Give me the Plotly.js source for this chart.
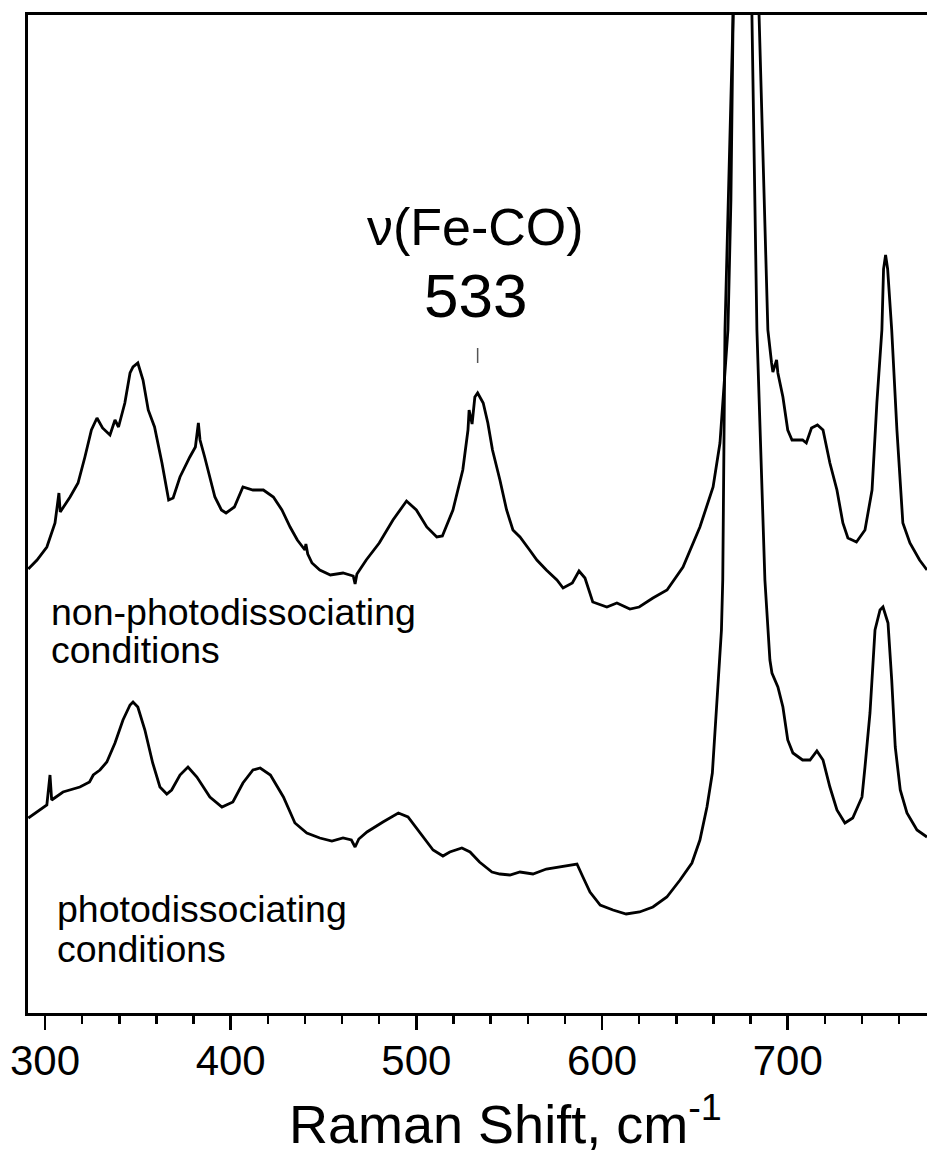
<!DOCTYPE html>
<html>
<head>
<meta charset="utf-8">
<script src="https://cdn.plot.ly/plotly-3.0.1.min.js"></script>
<style>html,body{margin:0;padding:0;background:#fff;overflow:hidden}</style>
</head>
<body>
<div id="chart" style="width:927px;height:1158px"></div>
<script>
// Raman shift (cm-1) and relative intensity (arbitrary units)
const nonPhotoShift = [291, 295.7, 301, 305.4, 307.5, 308.2, 313.5, 317.8, 321.5, 325, 328, 331, 335, 337.7, 339.6, 343, 345.8, 347.4, 350, 352.8, 355.6, 359, 363, 366.6, 369, 372.7, 378, 381, 382.6, 383.5, 386, 388.9, 391.5, 395, 397.5, 402, 406.6, 412, 417.6, 423, 427.6, 432, 435.9, 440, 440.5, 441.5, 443.8, 448, 453.7, 460.5, 466, 467, 468, 473, 480, 487.4, 494.7, 500, 505.6, 511, 514, 519.7, 525, 527.8, 528.4, 530, 531.5, 533, 536, 538.5, 541, 545, 548.6, 552, 555.8, 561, 564.9, 570, 575.7, 579, 584, 587.6, 590.8, 595, 602.6, 608, 615, 620, 627.4, 635, 643.6, 652.7, 659.8, 663.5, 666, 667.8, 669.4, 670.6, 677, 684.5, 687, 689.3, 691.3, 692, 694, 694.7, 697.4, 700, 702.3, 708, 710, 712.8, 716, 719, 722.7, 726.5, 729.7, 732.4, 737, 741.6, 745.4, 748, 750.7, 751.6, 752.7, 753.8, 756, 758.8, 762, 765.8, 771, 775];
const nonPhotoIntensity = [445, 454, 467, 491, 521, 502, 517, 531, 557, 584, 596, 586, 579, 594, 587, 611, 641, 647, 651, 634, 604, 587, 551, 514, 516, 537, 557, 567, 591, 574, 557, 537, 517, 504, 501, 507, 527, 524, 524, 517, 504, 487, 474, 464, 470, 460, 451, 444, 439, 441, 438, 430, 440, 454, 471, 494, 513, 504, 487, 477, 478, 504, 544, 584, 604, 590, 617, 621, 611, 591, 564, 534, 504, 484, 477, 464, 454, 444, 434, 426, 431, 443, 436, 412, 407, 411, 405, 407, 416, 424, 447, 487, 527, 571, 634, 684, 814, 1000, 1500, 1000, 814, 684, 651, 642, 654, 641, 617, 584, 574, 574, 571, 586, 589, 584, 551, 524, 491, 476, 472, 484, 524, 611, 684, 745, 759, 745, 684, 584, 491, 471, 454, 444];

const photoShift = [291, 295.7, 301, 302.7, 303.6, 309.7, 318.8, 324, 326, 329.6, 333.3, 337.7, 342, 345.8, 347.4, 350, 353.8, 358, 361.9, 365.6, 368.2, 372.7, 377, 381.8, 388.8, 395.3, 401.2, 406.6, 412, 415.9, 421.4, 428.4, 434.6, 441, 448, 454.5, 460.5, 465, 467, 469, 473.4, 482, 490.3, 495.5, 502, 509, 514.3, 518, 524.5, 528.9, 534, 540.7, 545, 550.4, 555.8, 562.8, 570, 577.3, 586.5, 589.7, 593.5, 599, 605.9, 613, 620.2, 627.4, 634.9, 642, 648.4, 652.7, 656.5, 659.4, 661, 662.6, 664.3, 665, 666.2, 670.6, 676.8, 680.7, 683.4, 687.7, 690.4, 691.5, 694.7, 697.4, 700, 702.8, 708, 712, 715.7, 719, 722.7, 726.5, 730.8, 735, 740, 741.6, 744.3, 747, 749.7, 751.3, 754, 756, 757.9, 760.6, 764.2, 769.6, 775];
const photoIntensity = [196, 202, 209, 239, 214, 222, 227, 232, 239, 244, 252, 271, 294, 309, 312, 307, 284, 251, 227, 220, 224, 239, 247, 237, 217, 207, 212, 231, 244, 246, 239, 217, 191, 181, 176, 173, 176, 174, 167, 175, 182, 192, 201, 197, 181, 164, 158, 162, 166, 162, 152, 142, 140, 139, 142, 140, 145, 147, 150, 137, 122, 109, 104, 100, 102, 107, 117, 134, 151, 174, 207, 241, 284, 334, 384, 434, 684, 1000, 1450, 1000, 684, 434, 354, 341, 327, 307, 274, 261, 254, 254, 263, 254, 227, 204, 191, 196, 217, 247, 301, 384, 404, 407, 391, 334, 267, 224, 201, 184, 177];

const markedBand = 533;
const xTickValues = [300, 400, 500, 600, 700];
const labelTop = ["non-photodissociating", "conditions"];
const labelBottom = ["photodissociating", "conditions"];

const FONT = "Liberation Sans, Arial, Helvetica, sans-serif";
const lineStyle = {color: "#000", width: 2.8, shape: "linear"};

const traces = [
  {x: nonPhotoShift, y: nonPhotoIntensity, type: "scatter", mode: "lines", line: lineStyle, name: "non-photodissociating", hoverinfo: "x+y"},
  {x: photoShift, y: photoIntensity, type: "scatter", mode: "lines", line: lineStyle, name: "photodissociating", hoverinfo: "x+y"}
];

const textAnn = (text, x, y, size, xref, xanchor, yanchor) => ({
  text: text, x: x, y: y, xref: xref, yref: "paper", xanchor: xanchor, yanchor: yanchor || "middle",
  showarrow: false, borderpad: 0, font: {family: FONT, size: size, color: "#000"}
});

const layout = {
  width: 927, height: 1158,
  margin: {l: 28, r: 0, t: 15, b: 145, pad: 0},
  paper_bgcolor: "#fff", plot_bgcolor: "#fff",
  showlegend: false,
  font: {family: FONT, color: "#000"},
  xaxis: {
    range: [290.85, 775.0],
    tickmode: "array", tickvals: xTickValues,
    ticks: "outside", ticklen: 14, tickwidth: 2.5, tickcolor: "#000",
    ticklabelstandoff: -5,
    tickfont: {family: FONT, size: 42, color: "#000"},
    showline: true, linewidth: 3, linecolor: "#000", mirror: true,
    showgrid: false, zeroline: false,
    minor: {dtick: 20, tick0: 0, ticks: "outside", ticklen: 8, tickwidth: 2.5, tickcolor: "#000", showgrid: false}
  },
  yaxis: {
    range: [1, 999],
    showticklabels: false, ticks: "",
    showline: true, linewidth: 3, linecolor: "#000", mirror: false,
    showgrid: false, zeroline: false
  },
  annotations: [
    textAnn("ν(Fe-CO)", markedBand - 1, 0.788, 52, "x", "center"),
    textAnn(String(markedBand), markedBand - 1, 0.7185, 62, "x", "center"),
    textAnn(labelTop[0], 0.025, 0.402, 37.5, "paper", "left"),
    textAnn(labelTop[1], 0.025, 0.364, 37.5, "paper", "left"),
    textAnn(labelBottom[0], 0.031, 0.104, 37.5, "paper", "left"),
    textAnn(labelBottom[1], 0.031, 0.064, 37.5, "paper", "left"),
    textAnn("Raman Shift, cm<sup>-1</sup>", 0.531, -0.1425, 54, "paper", "center", "bottom")
  ],
  shapes: [
    {type: "line", xref: "x", yref: "y", x0: markedBand, x1: markedBand, y0: 651, y1: 666,
     line: {color: "#555", width: 1.5}}
  ]
};

Plotly.newPlot("chart", traces, layout, {displayModeBar: false, staticPlot: true});
</script>
</body>
</html>
